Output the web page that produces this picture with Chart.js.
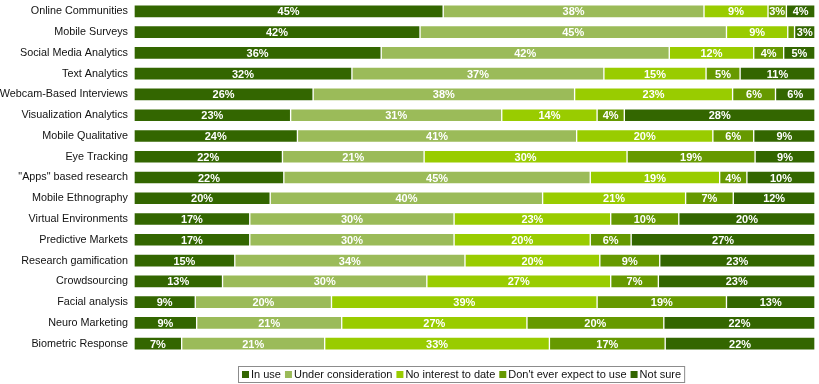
<!DOCTYPE html>
<html>
<head>
<meta charset="utf-8">
<script src="https://cdn.jsdelivr.net/npm/chart.js@4"></script>
<style>
  html, body { margin: 0; padding: 0; background: #fff; }
  #wrap { width: 819px; height: 384px; position: relative; }
</style>
</head>
<body>
<div id="wrap"><canvas id="chart"></canvas></div>
<script>
const categories = [
  "Online Communities", "Mobile Surveys", "Social Media Analytics", "Text Analytics",
  "Webcam-Based Interviews", "Visualization Analytics", "Mobile Qualitative", "Eye Tracking",
  "\"Apps\" based research", "Mobile Ethnography", "Virtual Environments", "Predictive Markets",
  "Research gamification", "Crowdsourcing", "Facial analysis", "Neuro Marketing",
  "Biometric Response",
];

// shares in % (labels show them rounded)
const inUse = [45.4, 42, 36.3, 32, 26.3, 23, 24, 21.8, 22, 20, 17, 17, 14.8, 13, 9, 9.2, 7];
const underConsideration = [38.3, 45, 42.3, 37, 38.4, 31, 41, 20.8, 45, 40, 30, 30, 33.8, 30, 20, 21.3, 21];
const noInterest = [9.4, 9, 12.4, 15, 23.2, 14, 20, 29.8, 19, 21, 23, 20, 19.8, 27, 39, 27.2, 33];
const dontExpect = [2.7, 1, 4.4, 5, 6.3, 4, 6, 18.8, 4, 7, 10, 6, 8.8, 7, 19, 20.1, 17];
const notSure = [4.2, 3, 4.6, 11, 5.8, 28, 9, 8.8, 10, 12, 20, 27, 22.8, 23, 13, 22.2, 22];

const seriesNames = ["In use", "Under consideration", "No interest to date", "Don't ever expect to use", "Not sure"];
const seriesColors = ["#336600", "#9bbb59", "#99cc00", "#669900", "#336600"];
const seriesData = [inUse, underConsideration, noInterest, dontExpect, notSure];

const FONT = "Arial, 'Liberation Sans', sans-serif";

// white percentage labels in the middle of each segment
const segmentLabels = {
  id: "segmentLabels",
  afterDatasetsDraw(chart) {
    const c = chart.ctx;
    c.save();
    c.font = "bold 11px " + FONT;
    c.fillStyle = "#fff";
    c.textAlign = "center";
    c.textBaseline = "middle";
    chart.data.datasets.forEach((ds, i) => {
      chart.getDatasetMeta(i).data.forEach((bar, j) => {
        const v = ds.data[j];
        if (v < 2.5) return;
        c.fillText(Math.round(v) + "%", (bar.x + bar.base) / 2, bar.y + 1);
      });
    });
    c.restore();
  },
};

// framed legend under the bars, squares + names
const boxLegend = {
  id: "boxLegend",
  afterDraw(chart) {
    const c = chart.ctx;
    const sq = 7, gapText = 2, gapItem = 4, pad = 3;
    c.save();
    c.font = "11px " + FONT;
    c.textBaseline = "middle";
    const items = chart.data.datasets.map(ds => ({
      text: ds.label, color: ds.backgroundColor, w: c.measureText(ds.label).width,
    }));
    const total = items.reduce((s, it) => s + sq + gapText + it.w, 0) + gapItem * (items.length - 1);
    const cx = 462, cy = 374.5;
    let x = Math.round(cx - total / 2);
    c.strokeStyle = "#8c8c8c";
    c.lineWidth = 1;
    c.strokeRect(x - pad - 0.5, 366.5, total + pad * 2 + 1, 16);
    items.forEach(it => {
      c.fillStyle = it.color;
      c.fillRect(x, Math.round(cy - sq / 2), sq, sq);
      x += sq + gapText;
      c.fillStyle = "#111";
      c.fillText(it.text, x, cy + 0.5);
      x += it.w + gapItem;
    });
    c.restore();
  },
};

new Chart(document.getElementById("chart"), {
  type: "bar",
  data: {
    labels: categories,
    datasets: seriesNames.map((name, i) => ({
      label: name,
      data: seriesData[i],
      backgroundColor: seriesColors[i],
      borderColor: "rgba(255,255,255,0.45)",
      borderWidth: 1,
      borderSkipped: false,
      barThickness: 13,
    })),
  },
  options: {
    indexAxis: "y",
    responsive: true,
    maintainAspectRatio: false,
    animation: false,
    layout: { padding: { left: 0, right: 4, top: 1, bottom: 30 } },
    scales: {
      x: { stacked: true, min: 0, max: 100, display: false },
      y: {
        stacked: true,
        grid: { display: false, drawTicks: false },
        border: { display: false },
        ticks: { color: "#111", font: { family: FONT, size: 10.8 }, padding: 6 },
        afterFit(scale) {
          scale.width = 134;
          scale.paddingTop = 0;
          scale.paddingBottom = 0;
        },
      },
    },
    plugins: {
      tooltip: { enabled: false },
      legend: { display: false },
    },
  },
  plugins: [segmentLabels, boxLegend],
});
</script>
</body>
</html>
